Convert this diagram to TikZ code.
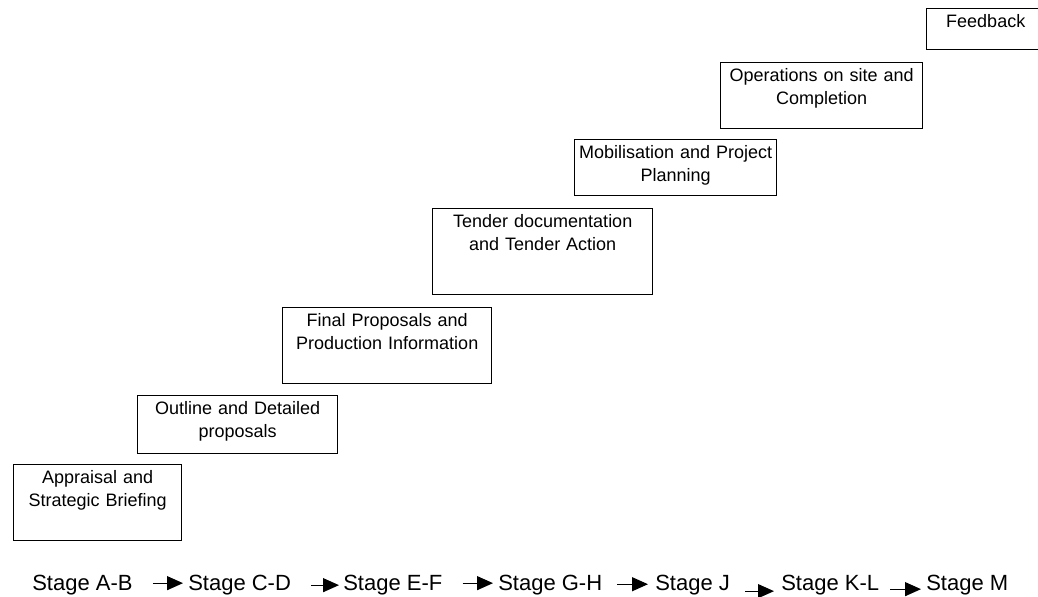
\documentclass[tikz,border=0pt]{standalone}
\usepackage{fontspec}
\setmainfont{Liberation Sans}
\usetikzlibrary{arrows.meta}

\begin{document}
\begin{tikzpicture}[x=0.75pt, y=-0.75pt, >={Triangle[length=12pt, width=10.5pt]},
  stagebox/.style 2 args = {draw, line width=1.1pt, anchor=north west, inner sep=0pt,
                  align=center, text width=#1, text height=14.25pt, text depth=#2,
                  font=\fontsize{13.5}{17.25}\selectfont},
  stagelbl/.style   = {anchor=base west, inner sep=0pt, font=\fontsize{16.5}{20}\selectfont},
  stagearrow/.style = {->, line width=0.9pt}
]
  \useasboundingbox (0,0) rectangle (1038,596);

  %% the staircase of work stages
  \node[stagebox={126pt}{42.75pt}]  (appraisal) at (13,464)  {Appraisal and\\Strategic Briefing};
  \node[stagebox={150pt}{29.25pt}]  (outline)   at (137,395) {Outline and Detailed\\proposals};
  \node[stagebox={156.75pt}{42.75pt}] (final)   at (282,307) {Final Proposals and\\Production Information};
  \node[stagebox={165pt}{50.25pt}]  (tender)    at (432,208) {Tender documentation\\and Tender Action};
  \node[stagebox={151.5pt}{27.75pt}] (mobil)    at (574,139) {Mobilisation and Project\\Planning};
  \node[stagebox={151.5pt}{35.25pt}] (ops)      at (720,62)  {Operations on site and\\Completion};
  \node[stagebox={88.5pt}{16.5pt}]  (feedback)  at (926,8)   {Feedback};

  %% stage letters along the bottom
  \node[stagelbl] (sAB) at (32,590)  {Stage A-B};
  \node[stagelbl] (sCD) at (188,590) {Stage C-D};
  \node[stagelbl] (sEF) at (343,590) {Stage E-F};
  \node[stagelbl] (sGH) at (498,590) {Stage G-H};
  \node[stagelbl] (sJ)  at (655,590) {Stage J};
  \node[stagelbl] (sKL) at (781,590) {Stage K-L};
  \node[stagelbl] (sM)  at (926,590) {Stage M};

  %% arrows between the stages
  \draw[stagearrow, shorten <=15pt, shorten >=3.75pt] ([yshift=2.5pt]sAB.mid east) -- ([yshift=2.5pt]sCD.mid west);
  \draw[stagearrow, shorten <=15pt, shorten >=3pt]    ([yshift=1pt]sCD.mid east) -- ([yshift=1pt]sEF.mid west);
  \draw[stagearrow, shorten <=15pt, shorten >=3.75pt] ([yshift=2.5pt]sEF.mid east) -- ([yshift=2.5pt]sGH.mid west);
  \draw[stagearrow, shorten <=11.25pt, shorten >=5.25pt] ([yshift=1.7pt]sGH.mid east) -- ([yshift=1.7pt]sJ.mid west);
  \draw[stagearrow, shorten <=11.25pt, shorten >=5.25pt] ([yshift=-3.5pt]sJ.mid east) -- ([yshift=-3.5pt]sKL.mid west);
  \draw[stagearrow, shorten <=8.25pt, shorten >=3.75pt]  ([yshift=-2pt]sKL.mid east) -- ([yshift=-2pt]sM.mid west);
\end{tikzpicture}
\end{document}
